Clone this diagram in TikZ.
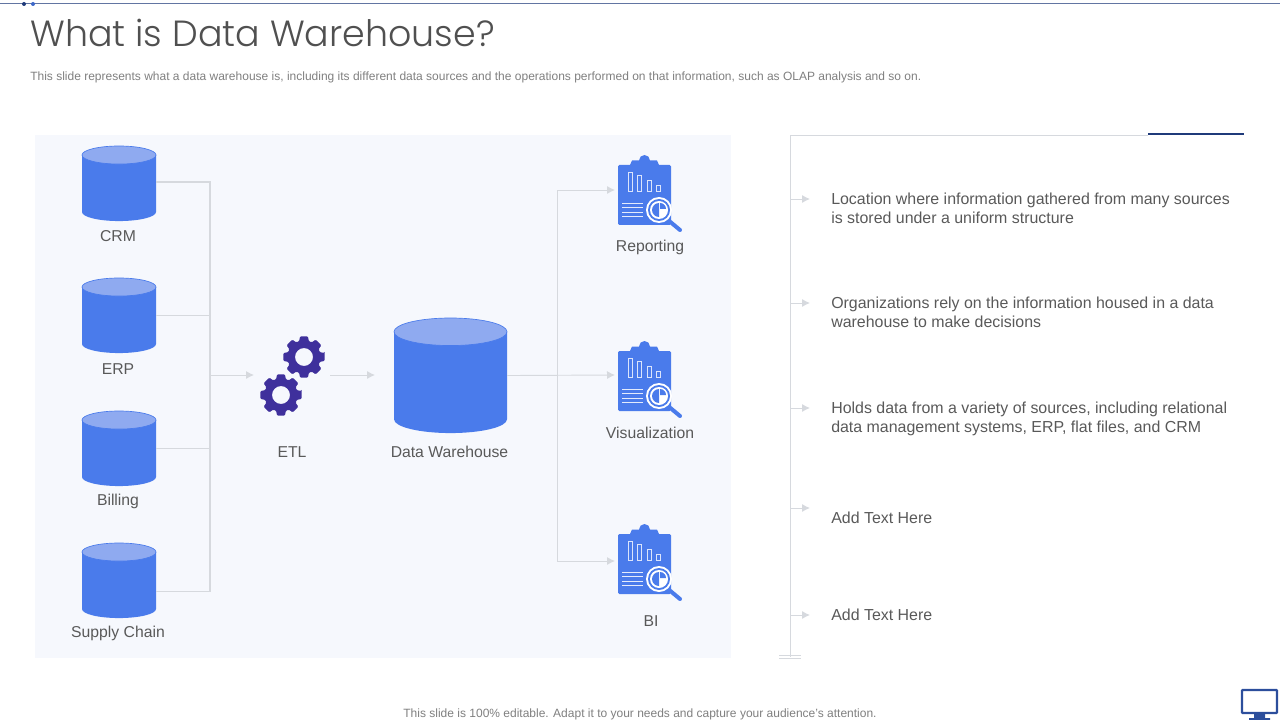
\documentclass[tikz,border=0pt]{standalone}
\usepackage{fontspec}
\setmainfont{Liberation Sans}
\newfontfamily\titlefont{Poppins Light}
\usetikzlibrary{arrows.meta}
\definecolor{panelbg}{HTML}{F6F8FD}
\definecolor{iconblue}{HTML}{4A7BEB}
\definecolor{icontop}{HTML}{8FAAF0}
\definecolor{gearblue}{HTML}{3F309C}
\definecolor{navyline}{HTML}{1F3A7A}
\definecolor{linkgrey}{HTML}{D6D9DE}
\definecolor{txtgrey}{HTML}{595959}
\definecolor{subgrey}{HTML}{7F7F7F}
\tikzset{
  lbl/.style={font=\fontsize{11.8pt}{15pt}\selectfont,text=txtgrey,inner sep=0pt},
  pointtxt/.style={font=\fontsize{11.95pt}{14.25pt}\selectfont,text=txtgrey,inner sep=0pt,
    anchor=west,align=left},
  thicklink/.style={draw=linkgrey,line width=1.4pt},
  thinlink/.style={draw=linkgrey,line width=.7pt},
  tip/.style={-{Latex[length=6pt,width=6pt,color=linkgrey]}},
  pics/gear/.style={code={
    \fill[gearblue,even odd rule,rounded corners=.8pt] (-11:21)
      \foreach \a in {0,45,...,315} {
        -- (\a-11:21) -- (\a+11:21) -- (\a+17:16.5) -- (\a+28:16.5)
      } -- cycle (0,0) circle (9);
  }},
  pics/report/.style={code={
    \fill[iconblue,rounded corners=1pt] (0,0) rectangle (53,60);
    \fill[iconblue] (12,0) -- (14,-4.5) -- (21,-4.5) arc (-180:0:5.5) -- (39,-4.5) -- (41,0) -- cycle;
    \foreach \bx/\by in {10/7,19/10,29/15,38/20}
      \draw[white!80!iconblue,line width=.5pt] (\bx,\by) rectangle ++(4,{26-\by});
    \foreach \ly in {38,42,47,51}
      \draw[white!85!iconblue,line width=.6pt] (4,\ly) -- (25,\ly);
    \draw[iconblue,line width=3pt,line cap=round] (50,55) -- (62,65);
    \fill[white] (41,45) circle (13);
    \fill[iconblue] (41,45) circle (11);
    \fill[white] (41,45) circle (9);
    \fill[iconblue] (41,45) -- (41,38) arc (-90:-270:7) -- cycle;
    \fill[iconblue] (42,44) -- (42,38) arc (-90:0:6) -- cycle;
  }}
}
% name, centre x, top y, half width, body height
\newcommand{\dbcyl}[5]{
  \pgfmathsetmacro{\cylry}{#4/4.1}
  \fill[iconblue] (#2-#4,#3+\cylry) -- ++(0,#5) arc (180:0:#4 and \cylry) -- ++(0,-#5) -- cycle;
  \draw[iconblue,fill=icontop,line width=.5pt] (#2,#3+\cylry) ellipse ({#4} and {\cylry});
  \pgfmathsetmacro{\cylw}{2*#4*.75}
  \pgfmathsetmacro{\cylh}{(#5+2*\cylry)*.75}
  \node[minimum width=\cylw pt,minimum height=\cylh pt,inner sep=0pt,outer sep=0pt,anchor=north] (#1) at (#2,#3) {};
}
\begin{document}
\begin{tikzpicture}[x=.75pt,y=-.75pt]
\useasboundingbox (0,0) rectangle (1280,720);
% header
\draw[navyline!70!white,line width=.6pt] (0,3) -- (1280,3);
\fill[navyline] (24,4) circle (2);
\fill[iconblue!70!navyline] (33,4) circle (2);
\node[anchor=base west,inner sep=0pt,text=txtgrey!90!black,font=\titlefont\fontsize{27.3pt}{32pt}\selectfont] (title) at (30,47) {What is Data Warehouse?};
\node[anchor=base west,inner sep=0pt,text=subgrey,font=\fontsize{9pt}{10pt}\selectfont] (subtitle) at (30,81) {This slide represents what a data warehouse is, including its different data sources and the operations performed on that information, such as OLAP analysis and so on.};
% left panel
\fill[panelbg] (35,135) rectangle (731,658);
\dbcyl{crm}{119}{146}{37}{57}
\dbcyl{erp}{119}{278}{37}{57}
\dbcyl{billing}{119}{411}{37}{57}
\dbcyl{supply}{119}{543}{37}{57}
\dbcyl{dw}{450.5}{318}{56.5}{87.5}
\node[lbl] (crmlbl) at (118,236) {CRM};
\node[lbl] (erplbl) at (118,369) {ERP};
\node[lbl] (billinglbl) at (118,501) {Billing};
\node[lbl] (supplylbl) at (118,633) {Supply Chain};
\node[lbl] (etllbl) at (292,452) {ETL};
\node[lbl] (dwlbl) at (449.5,452) {Data Warehouse};
\node[lbl] (replbl) at (650,247) {Reporting};
\node[lbl] (vislbl) at (650,433) {Visualization};
\node[lbl] (bilbl) at (651,621) {BI};
% gears and report icons
\pic at (304,357) {gear};
\pic at (281,395) {gear};
\pic at (618,165) {report};
\pic at (618,351) {report};
\pic at (618,534) {report};
% links
\coordinate (busin) at (210,375);
\coordinate (etlin) at (254,375);
\coordinate (etlout) at (330,375);
\coordinate (dwin) at (375,375);
\coordinate (fork) at (557,375);
\coordinate (reptip) at (615,190);
\coordinate (vistip) at (615,375);
\coordinate (bitip) at (615,561);
\draw[thicklink] ([yshift=1pt]crm.east) -| (busin);
\draw[thicklink] (erp.east) -- (erp.east -| busin);
\draw[thicklink] (billing.east) -- (billing.east -| busin);
\draw[thicklink] ([yshift=-8.25pt]supply.east) -| (busin);
\draw[thinlink,tip] (busin) -- (etlin);
\draw[thinlink,tip] (etlout) -- (dwin);
\draw[thinlink,tip] (dw.east) -- (vistip);
\draw[thinlink,tip] (fork) |- (reptip);
\draw[thinlink,tip] (fork) |- (bitip);
% right panel
\coordinate (spinetop) at (790,135);
\coordinate (spineend) at (790,657);
\draw[thinlink] (1148,135) -- (spinetop) -- (spineend);
\draw[navyline,line width=1.4pt] (1148,134) -- (1244,134);
\draw[thinlink] (779,655) -- (801,655) (779,658) -- (801,658);
\foreach \ty in {199,303,408,508,615}
  \draw[thinlink,tip] (790,\ty) -- (810,\ty);
\node[pointtxt] (pta) at (831,208.5) {Location where information gathered from many sources\\is stored under a uniform structure};
\node[pointtxt] (ptb) at (831,312.5) {Organizations rely on the information housed in a data\\warehouse to make decisions};
\node[pointtxt] (ptc) at (831,418.5) {Holds data from a variety of sources, including relational\\data management systems, ERP, flat files, and CRM};
\node[pointtxt] (ptd) at (831,518) {Add Text Here};
\node[pointtxt] (pte) at (831,615) {Add Text Here};
% footer
\node[inner sep=0pt,text=subgrey,font=\fontsize{9pt}{10pt}\selectfont] (footer) at (640,714) {This slide is 100\% editable. Adapt it to your needs and capture your audience's attention.};
\draw[navyline!70!iconblue,line width=1.6pt,fill=white,rounded corners=.5pt] (1242,690) rectangle (1277,713);
\fill[navyline!70!iconblue] (1254,713) rectangle (1265,718) (1249,718) rectangle (1270,720);
\end{tikzpicture}
\end{document}
